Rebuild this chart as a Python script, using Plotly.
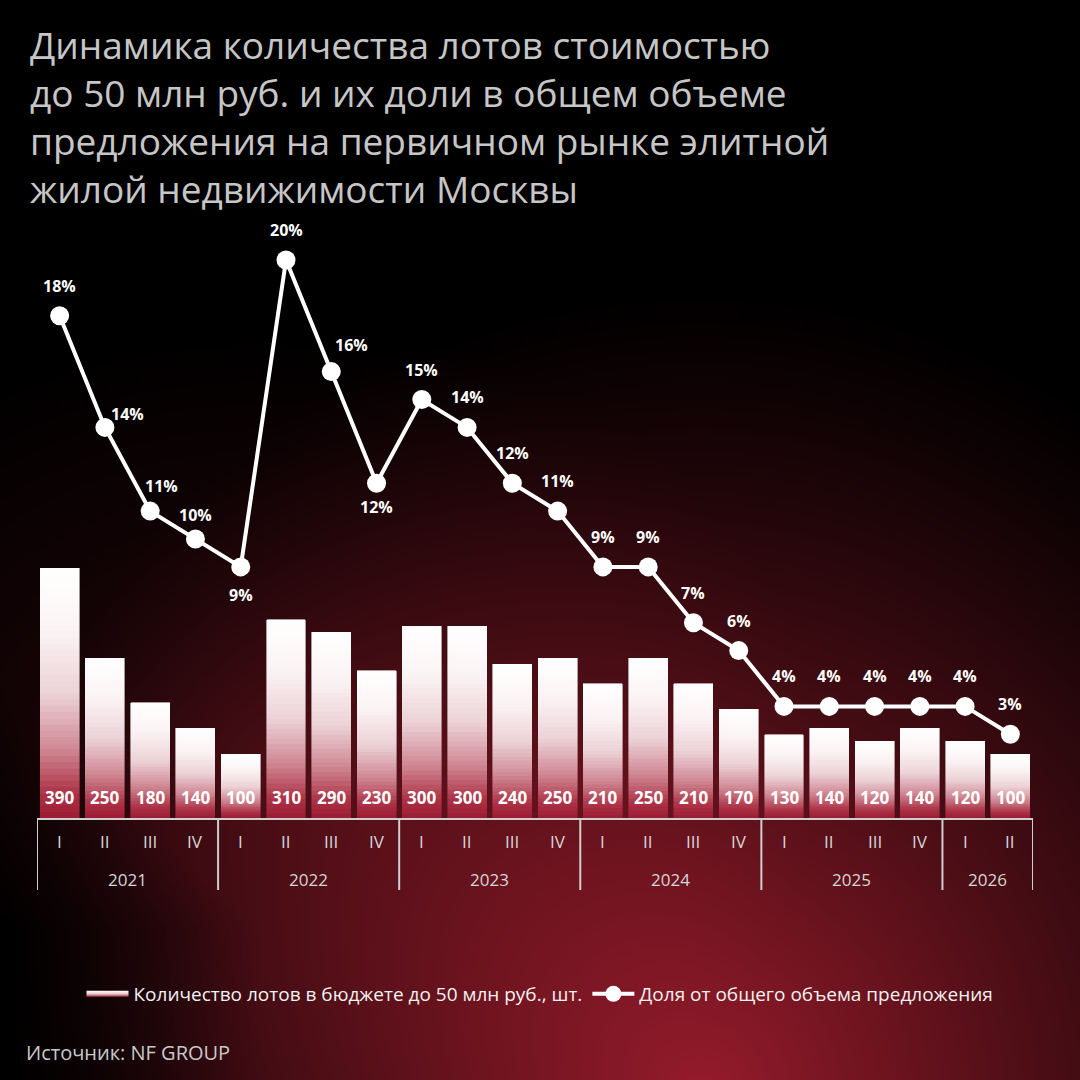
import base64, struct, zlib
import numpy as np
import plotly.graph_objects as go
from plotly.colors import sample_colorscale

# ---------------- data ----------------
years = ["2021"] * 4 + ["2022"] * 4 + ["2023"] * 4 + ["2024"] * 4 + ["2025"] * 4 + ["2026"] * 2
quarters = ["I", "II", "III", "IV"] * 5 + ["I", "II"]
lots = [390, 250, 180, 140, 100, 310, 290, 230, 300, 300, 240, 250,
        210, 250, 210, 170, 130, 140, 120, 140, 120, 100]
share = [18, 14, 11, 10, 9, 20, 16, 12, 15, 14, 12, 11, 9, 9, 7, 6, 4, 4, 4, 4, 4, 3]

title_lines = [
    "Динамика количества лотов стоимостью",
    "до 50 млн руб. и их доли в общем объеме",
    "предложения на первичном рынке элитной",
    "жилой недвижимости Москвы",
]
bar_name = "Количество лотов в бюджете до 50 млн руб., шт."
line_name = "Доля от общего объема предложения"
source = "Источник: NF GROUP"

# ---------------- styling ----------------
W = H = 1080
FONT = "Open Sans, Noto Sans, sans-serif"
y_bottom_px, y_top_px = 818, 218
x_left_px, x_right_px = 37, 1033
bar_px_per_unit = 0.64
pct_px_per_unit = 27.9
plot_h = y_bottom_px - y_top_px
n = len(lots)


def py(px):
    return 1 - px / H


def png_data_uri(arr):
    h, w, _ = arr.shape
    raw = b"".join(b"\x00" + arr[r].tobytes() for r in range(h))

    def chunk(tag, data):
        c = struct.pack(">I", len(data)) + tag + data
        return c + struct.pack(">I", zlib.crc32(tag + data) & 0xFFFFFFFF)

    png = (b"\x89PNG\r\n\x1a\n"
           + chunk(b"IHDR", struct.pack(">IIBBBBB", w, h, 8, 2, 0, 0, 0))
           + chunk(b"IDAT", zlib.compress(raw, 9))
           + chunk(b"IEND", b""))
    return "data:image/png;base64," + base64.b64encode(png).decode()


# background glow (decorative)
res = 540
g = np.linspace(0, W, res)
X, Y = np.meshgrid(g, g)
d = np.sqrt(((X - 700) / 760) ** 2 + ((Y - 1100) / 820) ** 2)
I1 = np.clip(1 - d, 0, 1) ** 1.15
d2 = np.sqrt(((X - 260) / 560) ** 2 + ((Y - 760) / 440) ** 2)
I2 = 0.24 * np.clip(1 - d2, 0, 1)
edge = np.clip(X / 260 + np.clip((930 - Y) / 250, 0, 1), 0, 1) ** 0.8
I = np.clip((I1 + I2) * edge, 0, 1)
red = np.array([152, 28, 44], dtype=float)
img = (I[..., None] * red[None, None, :]).clip(0, 255).astype(np.uint8)
bg_uri = png_data_uri(img)

fig = go.Figure()

# gradient bars built from stacked slices
N = 40
bar_scale = [[0.0, "#9b1b31"], [0.10, "#ad3347"], [0.28, "#d08995"],
             [0.5, "#ecd2d7"], [0.75, "#fbf3f4"], [1.0, "#ffffff"]]
cols = sample_colorscale(bar_scale, [(k + 0.5) / N for k in range(N)])
for k in range(N):
    fig.add_trace(go.Bar(
        x=[years, quarters], y=[v / N for v in lots],
        marker=dict(color=cols[k], line=dict(color=cols[k], width=0.6)),
        showlegend=False, name=bar_name,
        hoverinfo="skip", xaxis="x", yaxis="y",
    ))

# legend entry for the bars (gradient swatch)
fig.add_trace(go.Scatter(
    x=[None], y=[None], mode="none", fill="toself", name=bar_name,
    fillgradient=dict(type="vertical",
                      colorscale=[[0, "#a3263a"], [0.5, "#e9c9cf"], [1, "#ffffff"]]),
    legendrank=1, xaxis="x2", yaxis="y2",
))

idx = list(range(n))
fig.add_trace(go.Scatter(
    x=idx, y=share, mode="lines+markers", name=line_name, legendrank=2,
    line=dict(color="white", width=4),
    marker=dict(color="white", size=19),
    xaxis="x2", yaxis="y2",
))

annotations = []
shapes = []
# bar value labels
for i, v in enumerate(lots):
    annotations.append(dict(
        x=i, y=0, xref="x2", yref="y", text=f"<b>{v}</b>", showarrow=False,
        yanchor="middle", yshift=21,
        font=dict(family=FONT, size=17, color="white")))

# percent labels offsets (xshift, yshift)
offs = {1: (23, 13), 2: (11, 25), 3: (0, 24), 4: (0, -28), 6: (20, 27), 7: (0, -24)}
for i, p in enumerate(share):
    dx, dy = offs.get(i, (0, 30))
    annotations.append(dict(
        x=i, y=p, xref="x2", yref="y2", text=f"<b>{p}%</b>", showarrow=False,
        xshift=dx, yshift=dy, yanchor="middle",
        font=dict(family=FONT, size=16, color="white")))

# two-level category axis: quarter labels, year labels, dividers
axis_col = "#cfcfcf"
lab_col = "#d6d6d6"
for i, q in enumerate(quarters):
    annotations.append(dict(
        x=i, y=py(841), xref="x2", yref="paper", text=q, showarrow=False,
        yanchor="middle", font=dict(family=FONT, size=17, color=lab_col)))
groups = []
start = 0
for i in range(1, n + 1):
    if i == n or years[i] != years[start]:
        groups.append((years[start], start, i - 1))
        start = i
for yr, a, b in groups:
    annotations.append(dict(
        x=(a + b) / 2, y=py(879), xref="x2", yref="paper", text=yr,
        showarrow=False, yanchor="middle",
        font=dict(family=FONT, size=17, color=lab_col)))
    shapes.append(dict(type="line", xref="x2", yref="paper", x0=a - 0.5, x1=a - 0.5,
                       y0=py(818), y1=py(890), line=dict(color=axis_col, width=2)))
shapes.append(dict(type="line", xref="x2", yref="paper", x0=n - 0.5, x1=n - 0.5,
                   y0=py(818), y1=py(890), line=dict(color=axis_col, width=2)))

# title
annotations.append(dict(
    x=28 / W, y=py(17), xref="paper", yref="paper",
    xanchor="left", yanchor="top", align="left", text="<br>".join(title_lines),
    showarrow=False, font=dict(family=FONT, size=37, color="#c6c6c6")))

annotations.append(dict(
    x=24 / W, y=py(1052), xref="paper", yref="paper", xanchor="left",
    yanchor="middle", text=source, showarrow=False,
    font=dict(family=FONT, size=20, color="#c9c9c9")))

dom_x = [x_left_px / W, x_right_px / W]
dom_y = [py(y_bottom_px), py(y_top_px)]

fig.update_layout(
    width=W, height=H, margin=dict(l=0, r=0, t=0, b=0),
    paper_bgcolor="#000000", plot_bgcolor="rgba(0,0,0,0)",
    barmode="stack", bargap=0.14,
    font=dict(family=FONT, color="#d6d6d6"),
    images=[dict(source=bg_uri, xref="paper", yref="paper", x=0, y=1,
                 sizex=1, sizey=1, sizing="stretch", layer="below")],
    xaxis=dict(domain=dom_x, type="multicategory", showline=True,
               linecolor=axis_col, linewidth=2, showdividers=False,
               showgrid=False, zeroline=False, ticks="", showticklabels=False,
               range=[-0.5, n - 0.5]),
    xaxis2=dict(domain=dom_x, overlaying="x", range=[-0.5, n - 0.5],
                visible=False),
    yaxis=dict(domain=dom_y, range=[0, plot_h / bar_px_per_unit], visible=False),
    yaxis2=dict(domain=dom_y, overlaying="y", range=[0, plot_h / pct_px_per_unit],
                visible=False),
    legend=dict(orientation="h", x=0.5, xanchor="center", y=py(994),
                yanchor="middle", bgcolor="rgba(0,0,0,0)", itemwidth=42,
                font=dict(family=FONT, size=19, color="#f2f2f2"),
                traceorder="normal"),
    annotations=annotations,
    shapes=shapes,
    showlegend=True,
)

fig.write_html("out.html", config={"displayModeBar": False},
               post_script="document.body.style.margin='0';document.body.style.background='#000';")
